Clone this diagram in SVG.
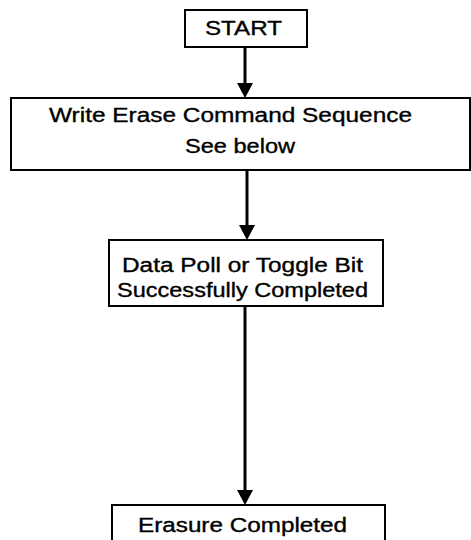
<svg xmlns="http://www.w3.org/2000/svg" width="471" height="540" viewBox="0 0 471 540">
<defs>
<style>
.box{fill:#fff;stroke:#000;stroke-width:2}
.t{font-family:"Liberation Sans",Arial,sans-serif;font-size:20px;fill:#000;stroke:#000;stroke-width:0.35}
.c{stroke:#000;stroke-width:3;fill:none}
.ah{fill:#000}
</style>
</defs>
<rect width="471" height="540" fill="#fff"/>
<g id="connectors">
<line class="c" x1="245" y1="47" x2="245" y2="84"/>
<path class="ah" d="M237,83 L253,83 L245,98 Z"/>
<line class="c" x1="247" y1="170" x2="247" y2="226"/>
<path class="ah" d="M239,225 L255,225 L247,240 Z"/>
<line class="c" x1="245" y1="306" x2="245" y2="491"/>
<path class="ah" d="M237,490 L253,490 L245,505 Z"/>
</g>
<g id="start">
<rect class="box" x="185" y="10" width="122" height="37"/>
<text class="t" x="205" y="35" textLength="77" lengthAdjust="spacingAndGlyphs" style="font-size:21px">START</text>
</g>
<g id="write">
<rect class="box" x="11" y="98" width="459" height="72"/>
<text class="t" x="49" y="122" textLength="363" lengthAdjust="spacingAndGlyphs">Write Erase Command Sequence</text>
<text class="t" x="185" y="153" textLength="110" lengthAdjust="spacingAndGlyphs">See below</text>
</g>
<g id="poll">
<rect class="box" x="109" y="240" width="274" height="66"/>
<text class="t" x="122" y="272" textLength="241" lengthAdjust="spacingAndGlyphs">Data Poll or Toggle Bit</text>
<text class="t" x="117" y="297" textLength="251" lengthAdjust="spacingAndGlyphs">Successfully Completed</text>
</g>
<g id="erased">
<rect class="box" x="112" y="505" width="273" height="45"/>
<text class="t" x="138" y="532" textLength="209" lengthAdjust="spacingAndGlyphs">Erasure Completed</text>
</g>
</svg>
